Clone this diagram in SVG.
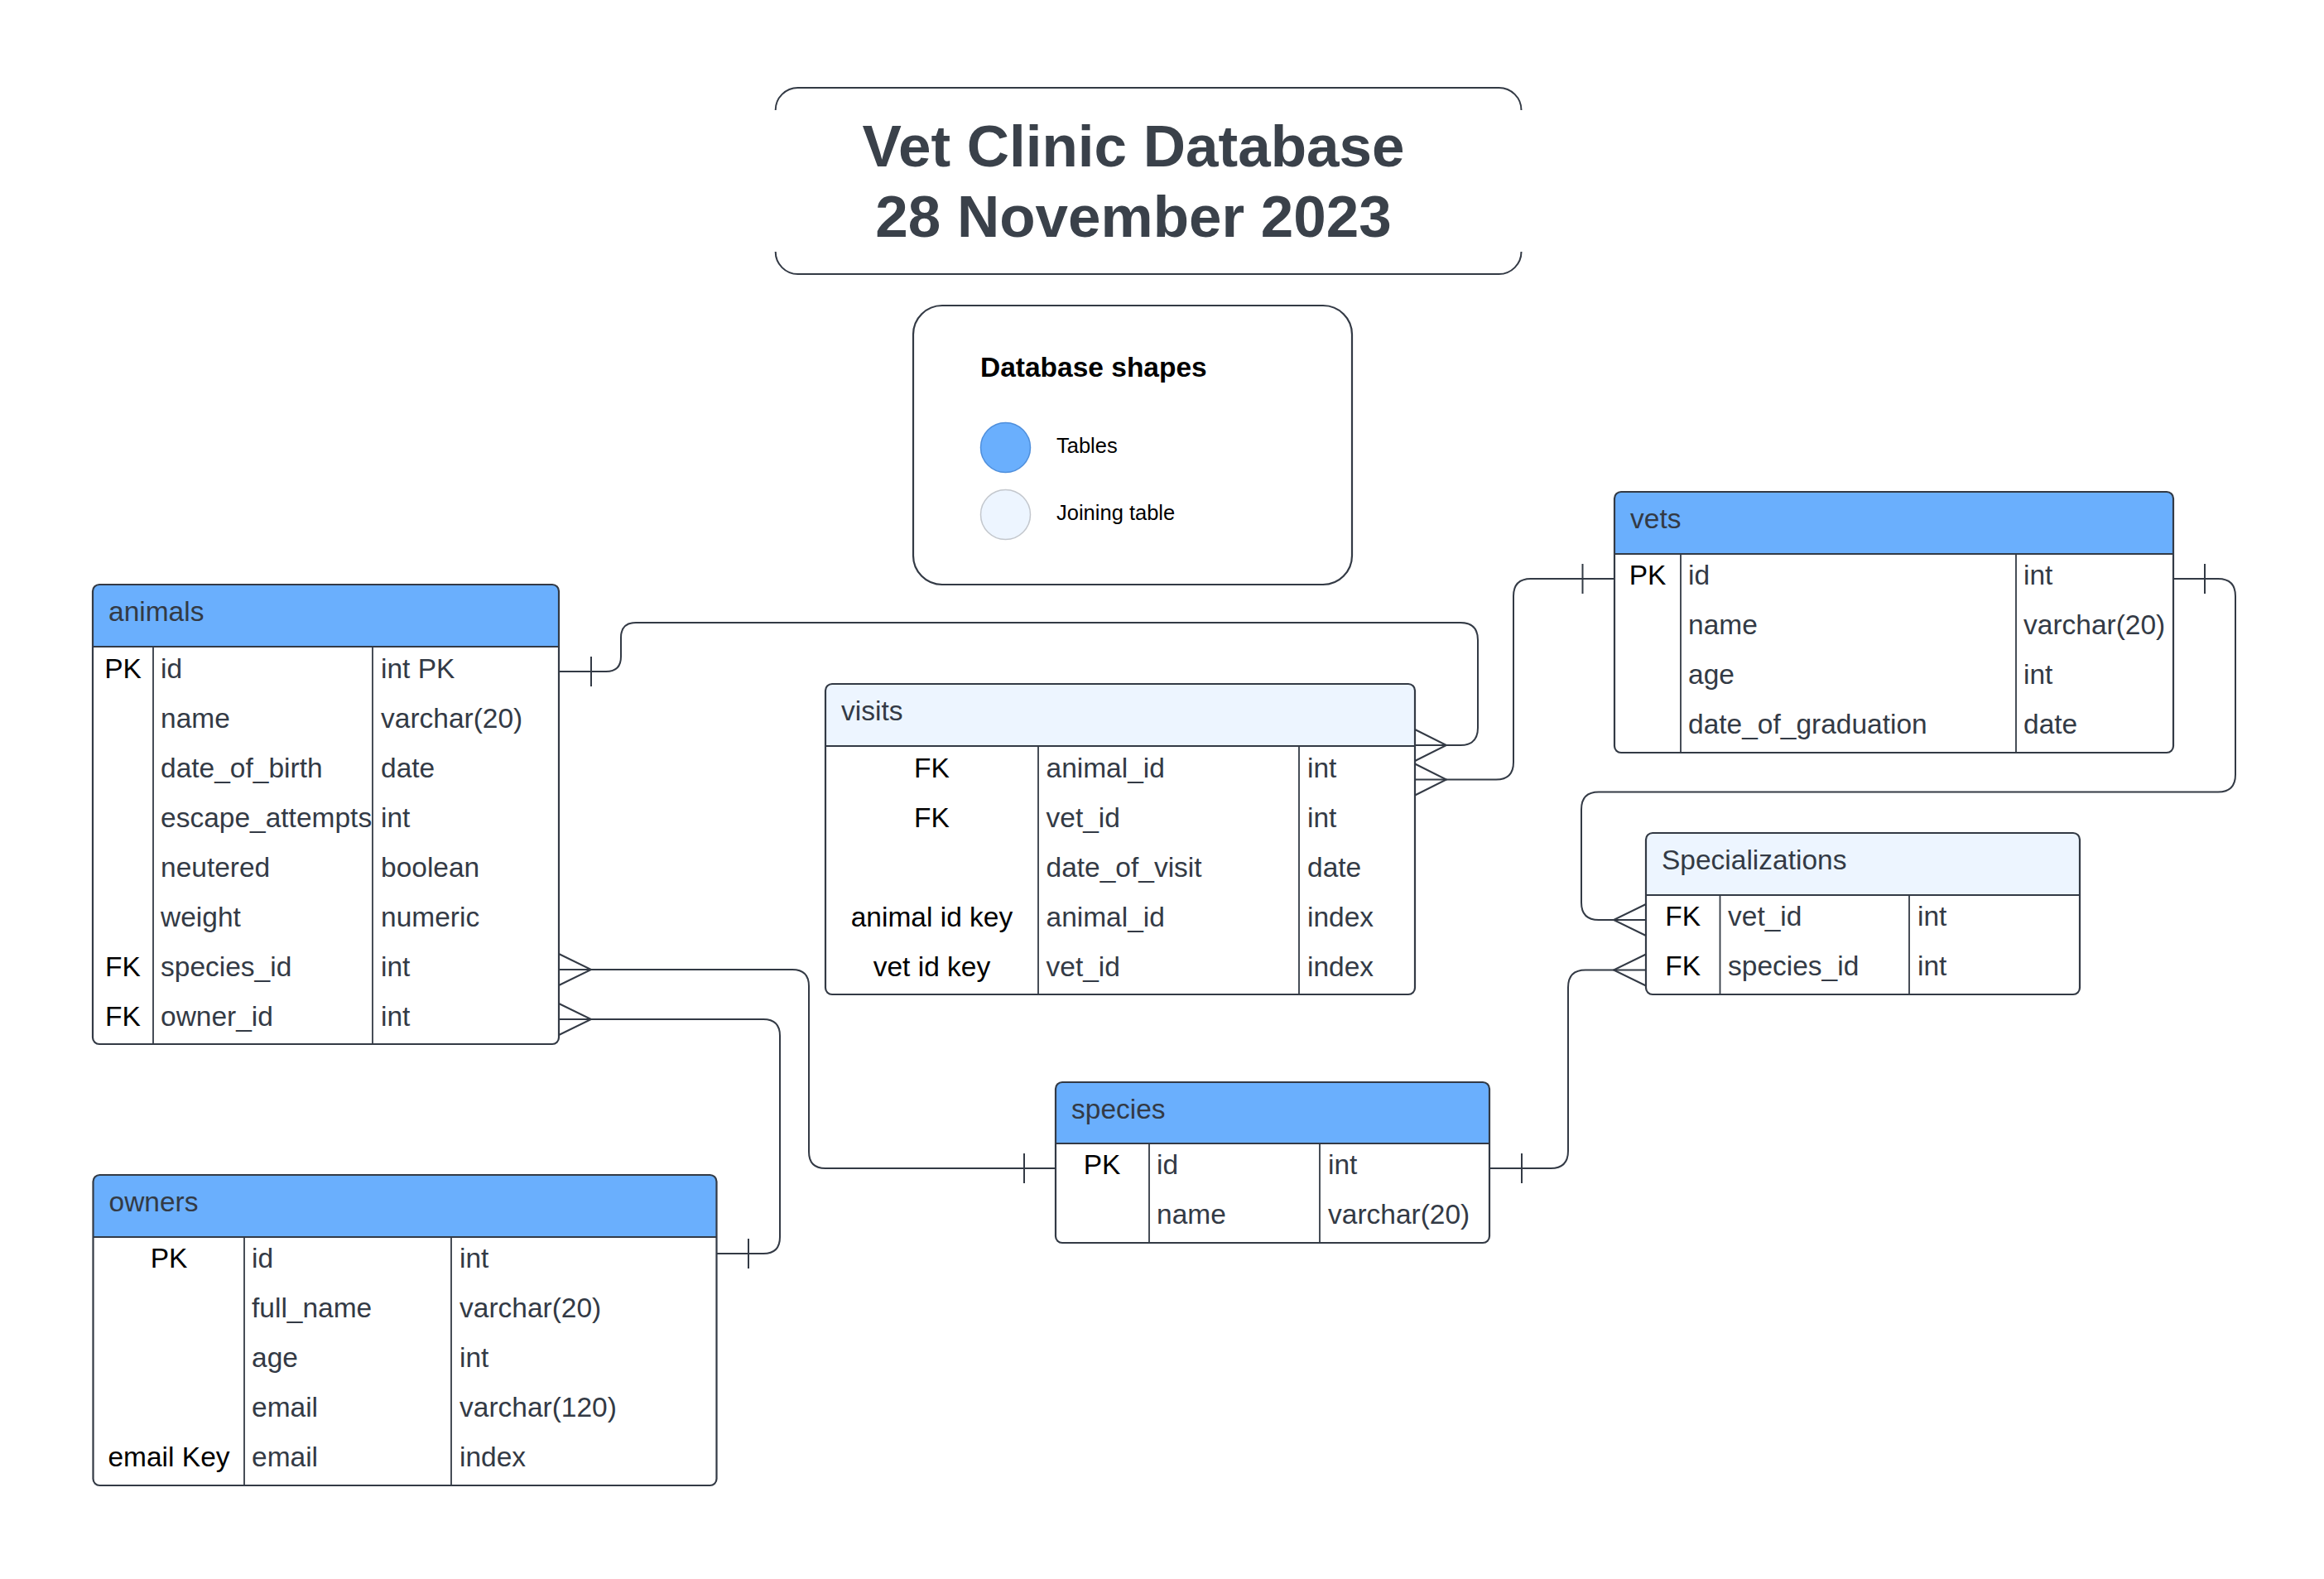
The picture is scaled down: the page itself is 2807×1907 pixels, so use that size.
<svg xmlns="http://www.w3.org/2000/svg" width="2807" height="1907" viewBox="0 0 2807 1907">
<style>
.bg{fill:#ffffff}
.box{fill:none;stroke:#333a45;stroke-width:2.2}
.body{fill:#ffffff}
.hdr{fill:#6aaffd}
.jhdr{fill:#edf5ff}
.sep{stroke:#333a45;stroke-width:1.8;fill:none}
.ht{font-family:"Liberation Sans",Arial,sans-serif;font-size:33.5px;fill:#333a45}
.ft{font-family:"Liberation Sans",Arial,sans-serif;font-size:33.5px;fill:#333a45}
.kt{font-family:"Liberation Sans",Arial,sans-serif;font-size:33.5px;fill:#000000;text-anchor:middle}
.conn{fill:none;stroke:#333a45;stroke-width:2}
.title{font-family:"Liberation Sans",Arial,sans-serif;font-size:71px;font-weight:bold;fill:#3a414a;text-anchor:middle}
.lt{font-family:"Liberation Sans",Arial,sans-serif;font-size:25.5px;fill:#000000}
.lh{font-family:"Liberation Sans",Arial,sans-serif;font-size:33.5px;font-weight:bold;fill:#000000}
</style>
<rect class="bg" x="0" y="0" width="2807" height="1907"/>

<g id="title">
<path class="conn" d="M936.7,133 A27,27 0 0 1 963.7,106 H1810.5 A27,27 0 0 1 1837.5,133"/>
<path class="conn" d="M936.7,304 A27,27 0 0 0 963.7,331 H1810.5 A27,27 0 0 0 1837.5,304"/>
<text class="title" x="1369" y="201">Vet Clinic Database</text>
<text class="title" x="1369" y="286">28 November 2023</text>
</g>

<g id="legend">
<rect class="box" x="1103" y="369" width="530" height="337" rx="35"/>
<text class="lh" x="1184" y="455">Database shapes</text>
<circle cx="1214.5" cy="540.5" r="30" fill="#6aaffd" stroke="#4f8fdc" stroke-width="1.5"/>
<text class="lt" x="1276" y="547">Tables</text>
<circle cx="1214.5" cy="621.5" r="30" fill="#edf5ff" stroke="#c3c7cd" stroke-width="1.5"/>
<text class="lt" x="1276" y="628">Joining table</text>
</g>

<g id="animals">
<rect class="body" x="112" y="706" width="563" height="555" rx="8"/>
<path class="hdr" d="M112,781 V714 Q112,706 120,706 H667 Q675,706 675,714 V781 Z"/>
<line class="sep" x1="112" y1="781" x2="675" y2="781"/>
<line class="sep" x1="185" y1="781" x2="185" y2="1261"/>
<line class="sep" x1="450" y1="781" x2="450" y2="1261"/>
<rect class="box" x="112" y="706" width="563" height="555" rx="8"/>
<text class="ht" x="131" y="750">animals</text>
<text class="kt" x="148.5" y="818.5">PK</text>
<text class="ft" x="194" y="818.5">id</text><text class="ft" x="460" y="818.5">int PK</text>
<text class="ft" x="194" y="878.5">name</text><text class="ft" x="460" y="878.5">varchar(20)</text>
<text class="ft" x="194" y="938.5">date_of_birth</text><text class="ft" x="460" y="938.5">date</text>
<text class="ft" x="194" y="998.5">escape_attempts</text><text class="ft" x="460" y="998.5">int</text>
<text class="ft" x="194" y="1058.5">neutered</text><text class="ft" x="460" y="1058.5">boolean</text>
<text class="ft" x="194" y="1118.5">weight</text><text class="ft" x="460" y="1118.5">numeric</text>
<text class="kt" x="148.5" y="1178.5">FK</text>
<text class="ft" x="194" y="1178.5">species_id</text><text class="ft" x="460" y="1178.5">int</text>
<text class="kt" x="148.5" y="1238.5">FK</text>
<text class="ft" x="194" y="1238.5">owner_id</text><text class="ft" x="460" y="1238.5">int</text>
</g>

<g id="visits">
<rect class="body" x="997" y="826" width="712" height="375" rx="8"/>
<path class="jhdr" d="M997,901 V834 Q997,826 1005,826 H1701 Q1709,826 1709,834 V901 Z"/>
<line class="sep" x1="997" y1="901" x2="1709" y2="901"/>
<line class="sep" x1="1254" y1="901" x2="1254" y2="1201"/>
<line class="sep" x1="1569" y1="901" x2="1569" y2="1201"/>
<rect class="box" x="997" y="826" width="712" height="375" rx="8"/>
<text class="ht" x="1016" y="870">visits</text>
<text class="kt" x="1125.5" y="938.5">FK</text>
<text class="ft" x="1263.5" y="938.5">animal_id</text><text class="ft" x="1579" y="938.5">int</text>
<text class="kt" x="1125.5" y="998.5">FK</text>
<text class="ft" x="1263.5" y="998.5">vet_id</text><text class="ft" x="1579" y="998.5">int</text>
<text class="ft" x="1263.5" y="1058.5">date_of_visit</text><text class="ft" x="1579" y="1058.5">date</text>
<text class="kt" x="1125.5" y="1118.5">animal id key</text>
<text class="ft" x="1263.5" y="1118.5">animal_id</text><text class="ft" x="1579" y="1118.5">index</text>
<text class="kt" x="1125.5" y="1178.5">vet id key</text>
<text class="ft" x="1263.5" y="1178.5">vet_id</text><text class="ft" x="1579" y="1178.5">index</text>
</g>

<g id="species">
<rect class="body" x="1275" y="1307" width="524" height="194" rx="8"/>
<path class="hdr" d="M1275,1381 V1315 Q1275,1307 1283,1307 H1791 Q1799,1307 1799,1315 V1381 Z"/>
<line class="sep" x1="1275" y1="1381" x2="1799" y2="1381"/>
<line class="sep" x1="1388" y1="1381" x2="1388" y2="1501"/>
<line class="sep" x1="1594" y1="1381" x2="1594" y2="1501"/>
<rect class="box" x="1275" y="1307" width="524" height="194" rx="8"/>
<text class="ht" x="1294" y="1351">species</text>
<text class="kt" x="1331" y="1418">PK</text>
<text class="ft" x="1397" y="1418">id</text><text class="ft" x="1604" y="1418">int</text>
<text class="ft" x="1397" y="1478">name</text><text class="ft" x="1604" y="1478">varchar(20)</text>
</g>

<g id="vets">
<rect class="body" x="1950" y="594" width="675" height="315" rx="8"/>
<path class="hdr" d="M1950,669 V602 Q1950,594 1958,594 H2617 Q2625,594 2625,602 V669 Z"/>
<line class="sep" x1="1950" y1="669" x2="2625" y2="669"/>
<line class="sep" x1="2030" y1="669" x2="2030" y2="909"/>
<line class="sep" x1="2435" y1="669" x2="2435" y2="909"/>
<rect class="box" x="1950" y="594" width="675" height="315" rx="8"/>
<text class="ht" x="1969" y="638">vets</text>
<text class="kt" x="1990" y="706">PK</text>
<text class="ft" x="2039" y="706">id</text><text class="ft" x="2444" y="706">int</text>
<text class="ft" x="2039" y="766">name</text><text class="ft" x="2444" y="766">varchar(20)</text>
<text class="ft" x="2039" y="826">age</text><text class="ft" x="2444" y="826">int</text>
<text class="ft" x="2039" y="886">date_of_graduation</text><text class="ft" x="2444" y="886">date</text>
</g>

<g id="specializations">
<rect class="body" x="1988" y="1006" width="524" height="195" rx="8"/>
<path class="jhdr" d="M1988,1081 V1014 Q1988,1006 1996,1006 H2504 Q2512,1006 2512,1014 V1081 Z"/>
<line class="sep" x1="1988" y1="1081" x2="2512" y2="1081"/>
<line class="sep" x1="2077.5" y1="1081" x2="2077.5" y2="1201"/>
<line class="sep" x1="2306" y1="1081" x2="2306" y2="1201"/>
<rect class="box" x="1988" y="1006" width="524" height="195" rx="8"/>
<text class="ht" x="2007" y="1050">Specializations</text>
<text class="kt" x="2032.7" y="1118">FK</text>
<text class="ft" x="2087" y="1118">vet_id</text><text class="ft" x="2316" y="1118">int</text>
<text class="kt" x="2032.7" y="1178">FK</text>
<text class="ft" x="2087" y="1178">species_id</text><text class="ft" x="2316" y="1178">int</text>
</g>

<g id="owners">
<rect class="body" x="112.5" y="1419" width="753" height="375" rx="8"/>
<path class="hdr" d="M112.5,1494 V1427 Q112.5,1419 120.5,1419 H857.5 Q865.5,1419 865.5,1427 V1494 Z"/>
<line class="sep" x1="112.5" y1="1494" x2="865.5" y2="1494"/>
<line class="sep" x1="295" y1="1494" x2="295" y2="1794"/>
<line class="sep" x1="545" y1="1494" x2="545" y2="1794"/>
<rect class="box" x="112.5" y="1419" width="753" height="375" rx="8"/>
<text class="ht" x="131.5" y="1463">owners</text>
<text class="kt" x="204" y="1531">PK</text>
<text class="ft" x="304" y="1531">id</text><text class="ft" x="555" y="1531">int</text>
<text class="ft" x="304" y="1591">full_name</text><text class="ft" x="555" y="1591">varchar(20)</text>
<text class="ft" x="304" y="1651">age</text><text class="ft" x="555" y="1651">int</text>
<text class="ft" x="304" y="1711">email</text><text class="ft" x="555" y="1711">varchar(120)</text>
<text class="kt" x="204" y="1771">email Key</text>
<text class="ft" x="304" y="1771">email</text><text class="ft" x="555" y="1771">index</text>
</g>

<g id="connectors">
<!-- animals.id to visits.animal_id -->
<path class="conn" d="M675,811 H732 Q750,811 750,793 V770 Q750,752 768,752 H1764 Q1785,752 1785,773 V879 Q1785,900 1764,900 H1709"/>
<path class="conn" d="M714,793 V829"/>
<path class="conn" d="M1709,881 L1747,900 L1709,919"/>
<!-- visits.vet_id to vets.id -->
<path class="conn" d="M1709,941.5 H1807 Q1828,941.5 1828,920.5 V720 Q1828,699 1849,699 H1950"/>
<path class="conn" d="M1709,922.5 L1747,941.5 L1709,960.5"/>
<path class="conn" d="M1911.5,681 V717"/>
<!-- animals.species_id to species.id -->
<path class="conn" d="M675,1171 H957 Q977,1171 977,1191 V1391 Q977,1411 997,1411 H1275"/>
<path class="conn" d="M675,1152 L714,1171 L675,1190"/>
<path class="conn" d="M1237,1393 V1429"/>
<!-- animals.owner_id to owners.id -->
<path class="conn" d="M675,1231 H922 Q942,1231 942,1251 V1494 Q942,1514 922,1514 H865.5"/>
<path class="conn" d="M675,1212 L714,1231 L675,1250"/>
<path class="conn" d="M904,1496 V1532"/>
<!-- vets.id to specializations.vet_id -->
<path class="conn" d="M2625,699 H2679 Q2700,699 2700,720 V935.5 Q2700,956.5 2679,956.5 H1931 Q1910,956.5 1910,977.5 V1090 Q1910,1111 1931,1111 H1988"/>
<path class="conn" d="M1988,1092 L1949,1111 L1988,1130"/>
<path class="conn" d="M2663,681 V717"/>
<!-- species.id to specializations.species_id -->
<path class="conn" d="M1799,1411 H1873 Q1894,1411 1894,1390 V1192.5 Q1894,1171.5 1915,1171.5 H1988"/>
<path class="conn" d="M1988,1152.5 L1949,1171.5 L1988,1190.5"/>
<path class="conn" d="M1838,1393 V1429"/>
</g>
</svg>
